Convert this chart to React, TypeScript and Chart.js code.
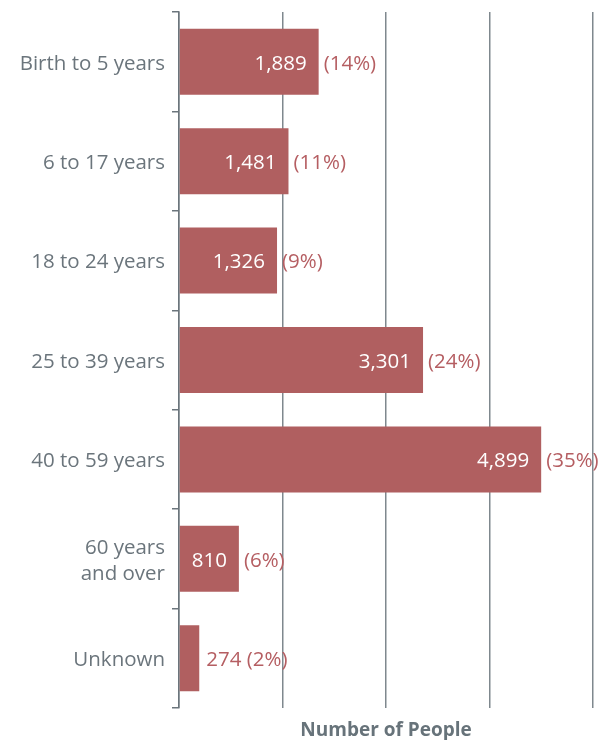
import React, { useEffect, useRef } from "react";
import { Chart, registerables } from "chart.js";

Chart.register(...registerables);

const categories: (string | string[])[] = [
  "Birth to 5 years",
  "6 to 17 years",
  "18 to 24 years",
  "25 to 39 years",
  "40 to 59 years",
  ["60 years", "and over"],
  "Unknown",
];
const peopleCounts = [1889, 1481, 1326, 3301, 4899, 810, 274];
const percentLabels = ["14%", "11%", "9%", "24%", "35%", "6%", "2%"];
const axisTitle = "Number of People";
const xMax = 5600;
const xStep = 1400;

const BAR_COLOR = "#b05f60";
const PCT_COLOR = "#b55e62";
const GRAY = "#6b757c";
const FONT = "'Open Sans', Lato, sans-serif";

const labelPlugin = {
  id: "barLabels",
  afterDatasetsDraw(chart: any) {
    const ctx = chart.ctx;
    const meta = chart.getDatasetMeta(0);
    ctx.save();
    ctx.font = `20.5px ${FONT}`;
    ctx.textBaseline = "middle";
    meta.data.forEach((bar: any, i: number) => {
      const v = peopleCounts[i];
      const txt = v.toLocaleString("en-US");
      const pct = `(${percentLabels[i]})`;
      const w = ctx.measureText(txt).width;
      const barLen = bar.x - bar.base;
      const y = bar.y + 2;
      if (barLen > w + 20) {
        ctx.fillStyle = "#ffffff";
        ctx.textAlign = "right";
        ctx.fillText(txt, bar.x - 12, y);
        ctx.fillStyle = PCT_COLOR;
        ctx.textAlign = "left";
        ctx.fillText(pct, bar.x + 5, y);
      } else {
        ctx.fillStyle = PCT_COLOR;
        ctx.textAlign = "left";
        ctx.fillText(`${txt} ${pct}`, bar.x + 7, y);
      }
    });
    ctx.restore();
  },
};

export default function App() {
  const canvasRef = useRef<HTMLCanvasElement | null>(null);

  useEffect(() => {
    document.body.style.margin = "0";
    const chart = new Chart(canvasRef.current as HTMLCanvasElement, {
      type: "bar",
      data: {
        labels: categories,
        datasets: [
          {
            data: peopleCounts,
            backgroundColor: BAR_COLOR,
            borderWidth: 0,
            barPercentage: 0.664,
            categoryPercentage: 1,
          },
        ],
      },
      options: {
        indexAxis: "y",
        animation: false,
        responsive: true,
        maintainAspectRatio: false,
        layout: { padding: { top: 12, right: 20, left: 0, bottom: 0 } },
        plugins: {
          legend: { display: false },
          tooltip: { enabled: false },
        },
        scales: {
          x: {
            min: 0,
            max: xMax,
            ticks: { display: false, stepSize: xStep },
            grid: {
              color: "#7f888e",
              lineWidth: 1.5,
              drawTicks: false,
            },
            border: { display: false },
            title: {
              display: true,
              text: axisTitle,
              color: "#67737a",
              font: { family: FONT, size: 19, weight: "bold" },
              padding: { top: 0, bottom: -2 },
            },
            afterFit: (scale: any) => {
              scale.height = 32;
              scale.paddingLeft = 0;
              scale.paddingRight = 0;
            },
          },
          y: {
            grid: {
              offset: true,
              drawOnChartArea: false,
              drawTicks: true,
              tickLength: 7,
              color: GRAY,
              lineWidth: 1.5,
            },
            border: { display: true, color: GRAY, width: 1.5 },
            ticks: {
              color: GRAY,
              padding: 7,
              labelOffset: 2,
              font: { family: FONT, size: 20.5, lineHeight: 1.27 },
            },
            afterFit: (scale: any) => {
              scale.width = 179;
              scale.paddingTop = 0;
              scale.paddingBottom = 0;
            },
          },
        },
      },
      plugins: [labelPlugin],
    });
    return () => chart.destroy();
  }, []);

  return (
    <div style={{ position: "fixed", left: 0, top: 0, width: 613, height: 740 }}>
      <canvas ref={canvasRef} />
    </div>
  );
}
